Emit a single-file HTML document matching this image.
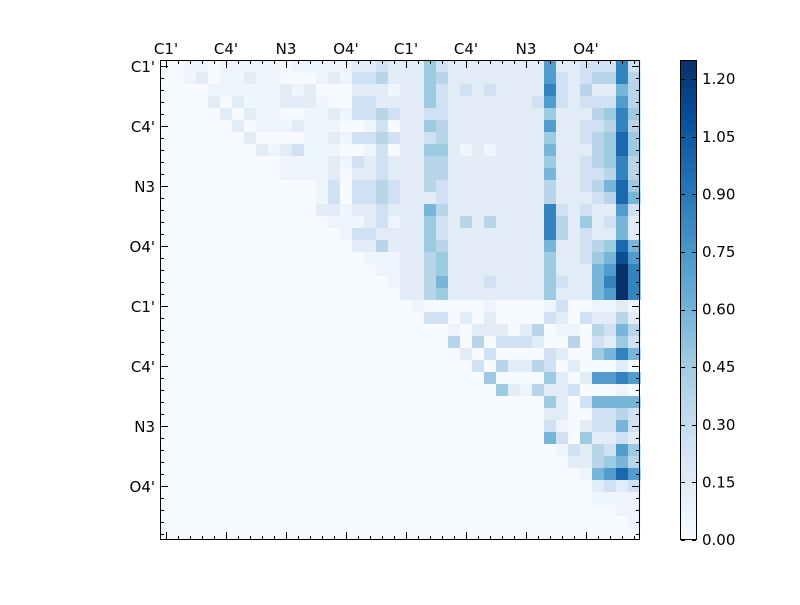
<!DOCTYPE html>
<html><head><meta charset="utf-8"><style>
body{margin:0;background:#fff;}
svg text{font-family:"DejaVu Sans","Liberation Sans",sans-serif;font-size:15px;fill:#000;}
</style></head><body>
<svg id="s" width="800" height="600" xmlns="http://www.w3.org/2000/svg">
<defs><linearGradient id="cb" x1="0" y1="1" x2="0" y2="0">
<stop offset="0" stop-color="#f7fbff"/><stop offset="0.125" stop-color="#deebf7"/><stop offset="0.25" stop-color="#c6dbef"/><stop offset="0.375" stop-color="#9ecae1"/><stop offset="0.5" stop-color="#6baed6"/><stop offset="0.625" stop-color="#4292c6"/><stop offset="0.75" stop-color="#2171b5"/><stop offset="0.875" stop-color="#08519c"/><stop offset="1" stop-color="#08306b"/></linearGradient></defs>
<g id="cells"></g>
<rect x="160.5" y="60.5" width="479" height="479" fill="none" stroke="#000" stroke-width="1"/>
<g id="ticks" stroke="#000" stroke-width="1"></g>
<g id="labels"></g>
<rect x="680.5" y="60.5" width="16" height="479" fill="url(#cb)" stroke="#000"/>
<g id="cbt" stroke="#000"></g>
</svg>
<script>
var C={'0':'#f7fbff','a':'#edf4fc','1':'#e1ecf7','2':'#cfe1f2','3':'#b8d5ea','4':'#9ccae1','5':'#78b6d9','6':'#519ccc','7':'#3383be','8':'#1a68ae','d':'#0b4f93','9':'#08306b'};
var L=["00aa0aaaaa0aaaaa1121","00a10aa1aa000a1a2231","0000aaaaaa1a1000111a","0000101aaa111a002211","00000101aa00aa1a2232","00000010aaa1aaa00a20","000000010000aa1a2232","000000001a12aaa00a20","0000000000aaaa1a2121","0000000000aaaa101121","0000000000000a202232","0000000000000a202232","000000000000011a1121","00000000000000aaa12a","000000000000000a2211","00000000000000001131","00000000000000000aaa","000000000000000000aa","0000000000000000000a","00000000000000000000"];
var R=["11421111111161122272","11431111111162123373","11421212111172131153","11421111111262122263","11221111111141113474","11431111111161122373","11231111111141123484","11441a1a111151113484","11331111111141123473","11331111111151122373","11321111111131123584","11121111111131112385","11531111111172121162","11421313111173141251","11421111111173121151","11431111111151123485","113411111111411245d6","11341111111141115697","11351112111142115797","11341111111141115697"];
var B=["0a00000a0000a200aa1a","00220101000021021131","0000a01110130aa03253","00003030222100302142","00000102000021004575","00000020311320100010","00000004000041016676","0000000041a3112000a0","00000000000041025555","00000000000011002232","0000000000002a012252","00000000000052041121","0000000000000a213264","00000000000000113453","000000000000000a5686","00000000000000001212","0000000000000000aaaa","000000000000000000aa","0000000000000000000a","00000000000000000000"];
var g=document.getElementById('cells'),h='';
function row(r,str,off){for(var c=0;c<20;c++){var k=str[c]||'0';h+='<rect x="'+(160+12*(c+off))+'" y="'+(60+12*r)+'" width="12.5" height="12.5" fill="'+C[k]+'"/>';}}
for(var r=0;r<20;r++){row(r,L[r],0);row(r,R[r],20);}
for(var r=0;r<20;r++){row(r+20,"00000000000000000000",0);row(r+20,B[r],20);}
g.innerHTML=h;
var t='';
for(var i=0;i<40;i++){var p=166+12*i+0.5,len=(i%5==0)?8:4;
t+='<line x1="'+p+'" y1="60" x2="'+p+'" y2="'+(60+len)+'"/>';
t+='<line x1="'+p+'" y1="540" x2="'+p+'" y2="'+(540-len)+'"/>';
var q=66+12*i+0.5;
t+='<line x1="160" y1="'+q+'" x2="'+(160+len)+'" y2="'+q+'"/>';
t+='<line x1="640" y1="'+q+'" x2="'+(640-len)+'" y2="'+q+'"/>';}
document.getElementById('ticks').innerHTML=t;
var names=["C1'","C4'","N3","O4'","C1'","C4'","N3","O4'"],lb='';
for(var i=0;i<8;i++){lb+='<text x="'+(166+60*i)+'" y="54" text-anchor="middle">'+names[i]+'</text>';
lb+='<text x="155" y="'+(72+60*i)+'" text-anchor="end">'+names[i]+'</text>';}
var vals=["0.00","0.15","0.30","0.45","0.60","0.75","0.90","1.05","1.20"],ct='';
for(var i=0;i<9;i++){var y=540-i*0.15*384;var yy=Math.round(y)+0.5;
ct+='<line x1="681" y1="'+yy+'" x2="685" y2="'+yy+'"/><line x1="692" y1="'+yy+'" x2="696" y2="'+yy+'"/>';
lb+='<text x="702" y="'+(y+5)+'">'+vals[i]+'</text>';}
document.getElementById('cbt').innerHTML=ct;
document.getElementById('labels').innerHTML=lb;
</script>
</body></html>
